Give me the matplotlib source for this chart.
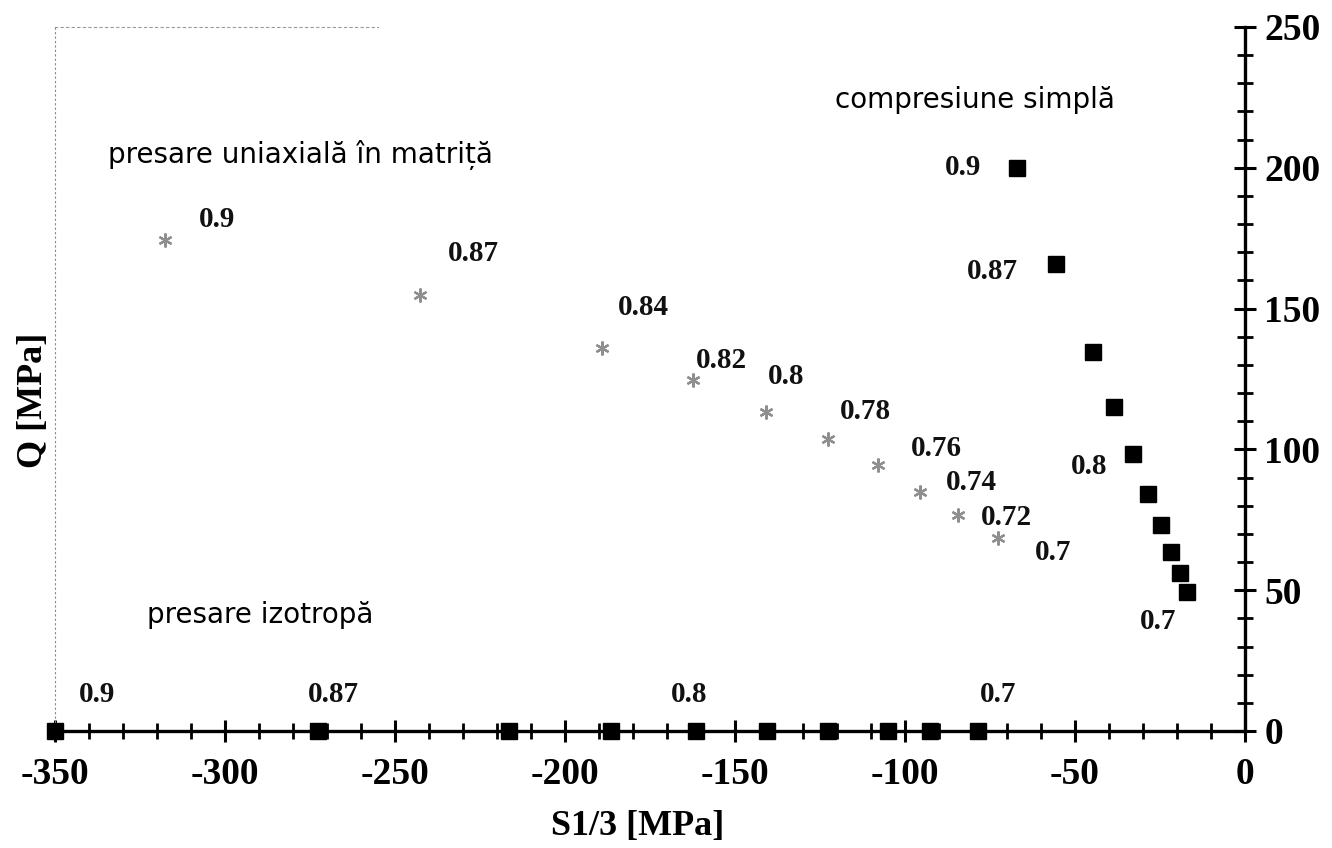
import matplotlib
matplotlib.use("Agg")
import matplotlib.pyplot as plt
from matplotlib.ticker import MultipleLocator

plt.rcParams["axes.unicode_minus"] = False

# densitati relative (etichete puncte)
dens = ["0.9", "0.87", "0.84", "0.82", "0.8", "0.78", "0.76", "0.74", "0.72", "0.7"]

# presare izotropa (Q = 0)
iso_s = [-350, -272.6, -216.5, -186.5, -161.5, -140.6, -122.6, -105, -92.6, -78.5]
iso_q = [0, 0, 0, 0, 0, 0, 0, 0, 0, 0]

# presare uniaxiala in matrita
die_s = [-317.6, -242.6, -189.1, -162.4, -140.9, -122.6, -107.9, -95.6, -84.4, -72.6]
die_q = [174.4, 154.8, 136.0, 124.6, 113.3, 103.7, 94.4, 84.8, 76.7, 68.5]

# compresiune simpla
cmp_s = [-67, -55.5, -44.8, -38.4, -33, -28.4, -24.8, -21.8, -19, -17]
cmp_q = [200, 166, 134.5, 115, 98.5, 84, 73, 63.5, 56, 49.5]

SERIF = "Liberation Serif"
SANS = "DejaVu Sans"

# offset-uri etichete (pixeli, y in sus)
iso_lab = {0: (42, 37), 1: (15, 37), 4: (-7, 37), 9: (20, 37)}
cmp_lab = {0: (-54, 0), 1: (-64, -8), 4: (-44, -13), 9: (-29, -30)}
die_lab = {0: (52, 20), 1: (53, 42), 2: (41, 41), 3: (29, 20), 4: (20, 35),
           5: (37, 27), 6: (58, 17), 7: (51, 10), 8: (48, -2), 9: (55, -14)}


def label_points(ax, xs, ys, offsets):
    for i, (dx, dy) in offsets.items():
        ax.annotate(dens[i], (xs[i], ys[i]), xytext=(dx, dy),
                    textcoords="offset pixels", ha="center", va="center",
                    fontsize=21, fontweight="bold", family=SERIF, color="#111111")


fig = plt.figure(figsize=(13.32, 8.48), dpi=100)
ax = fig.add_axes([55 / 1332, 1 - 731 / 848, 1190 / 1332, 704 / 848])
ax.set_xlim(-350, 0)
ax.set_ylim(0, 250)

ax.plot(iso_s, iso_q, "s", color="black", markersize=11, clip_on=False, zorder=5)
ax.plot(cmp_s, cmp_q, "s", color="black", markersize=12, clip_on=False, zorder=5)
ax.plot(die_s, die_q, linestyle="none", marker=(6, 2, 0), color="#8f8f8f",
        markersize=10, markeredgewidth=1.6, zorder=4)

label_points(ax, iso_s, iso_q, iso_lab)
label_points(ax, cmp_s, cmp_q, cmp_lab)
label_points(ax, die_s, die_q, die_lab)

ax.text(-334.4, 204.5, "presare uniaxială în matriță", fontsize=20, family=SANS,
        ha="left", va="center")
ax.text(-120.6, 224, "compresiune simplă", fontsize=20, family=SANS,
        ha="left", va="center")
ax.text(-323, 41.2, "presare izotropă", fontsize=20, family=SANS,
        ha="left", va="center")

# axe
for side in ("right", "bottom"):
    ax.spines[side].set_linewidth(2.4)
    ax.spines[side].set_color("black")
ax.spines["left"].set_linestyle((0, (1, 3)))
ax.spines["left"].set_linewidth(0.8)
ax.spines["left"].set_color("#888888")
ax.spines["top"].set_linestyle((0, (2, 3)))
ax.spines["top"].set_linewidth(0.8)
ax.spines["top"].set_color("#999999")
ax.spines["top"].set_bounds(-350, -255)

ax.yaxis.tick_right()
ax.xaxis.set_major_locator(MultipleLocator(50))
ax.xaxis.set_minor_locator(MultipleLocator(10))
ax.yaxis.set_major_locator(MultipleLocator(50))
ax.yaxis.set_minor_locator(MultipleLocator(10))
ax.tick_params(which="major", direction="inout", length=16, width=2.2, color="black")
ax.tick_params(which="minor", direction="inout", length=12, width=2.0, color="black")
ax.tick_params(axis="x", which="major", pad=11)
ax.tick_params(axis="y", which="major", pad=6)

for lab in ax.get_xticklabels() + ax.get_yticklabels():
    lab.set_fontfamily(SERIF)
    lab.set_fontweight("bold")
    lab.set_fontsize(27)

ax.set_xlabel("S1/3 [MPa]", fontsize=26, fontweight="bold", family=SERIF)
ax.xaxis.set_label_coords(0.49, -0.112)
ax.set_ylabel("Q [MPa]", fontsize=26, fontweight="bold", family=SERIF)
ax.yaxis.set_label_position("left")
ax.yaxis.set_label_coords(-0.004, 0.47)

fig.savefig("out.png", dpi=100, facecolor="white")
